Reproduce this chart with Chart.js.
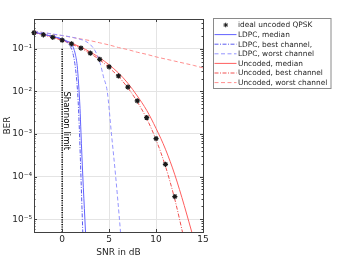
<!DOCTYPE html>
<html lang="en">
<head>
<meta charset="UTF-8" />
<title>BER vs SNR</title>
<script src="https://cdn.jsdelivr.net/npm/chart.js"></script>
<style>
  html, body { margin: 0; padding: 0; background: #fff; }
</style>
</head>
<body>
<canvas id="grafico" width="347" height="260"></canvas>
<script>
// ideal uncoded QPSK (markers)
const snrIdeal = [-3, -2, -1, 0, 1, 2, 3, 4, 5, 6, 7, 8, 9, 10, 11, 12];
const berIdeal = [0.239, 0.213, 0.186, 0.159, 0.131, 0.104, 0.0789, 0.0565, 0.0377, 0.023, 0.0126, 0.006, 0.00242, 7.8e-4, 1.94e-4, 3.4e-5];

// LDPC
const snrLdpcMedian = [-3, -2, -1, 0, 0.5, 1, 1.2, 1.4, 1.6, 1.75, 1.9, 2.0, 2.2, 2.42, 2.6];
const berLdpcMedian = [0.245, 0.22, 0.195, 0.17, 0.152, 0.13, 0.105, 0.075, 0.04, 0.015, 4e-3, 1.1e-3, 1e-4, 1e-5, 1.5e-6];
const snrLdpcBest = [-3, -2, -1, 0, 0.4, 0.8, 1.1, 1.35, 1.55, 1.7, 1.85, 2.0, 2.15, 2.3];
const berLdpcBest = [0.245, 0.22, 0.195, 0.168, 0.15, 0.12, 0.085, 0.045, 0.018, 6e-3, 1e-3, 1e-4, 1e-5, 1e-6];
const snrLdpcWorst = [-3, -2, -1, 0, 1, 2, 2.5, 3, 3.5, 4, 4.4, 4.8, 5.25, 5.7, 6.1, 6.4];
const berLdpcWorst = [0.255, 0.24, 0.222, 0.205, 0.188, 0.165, 0.15, 0.125, 0.09, 0.05, 0.022, 0.01, 1e-3, 1e-4, 1e-5, 1.5e-6];

// uncoded
const snrUncMedian = [-3, -2, -1, 0, 1, 2, 3, 4, 5, 6, 7, 8, 9, 10, 11, 12, 13, 14];
const berUncMedian = [0.245, 0.218, 0.19, 0.163, 0.136, 0.109, 0.084, 0.061, 0.042, 0.027, 0.0155, 0.0078, 0.0036, 0.00135, 4.4e-4, 1.1e-4, 2.1e-5, 3.5e-6];
const snrUncBest = [-3, -2, -1, 0, 1, 2, 3, 4, 5, 6, 7, 8, 9, 10, 11, 12, 13];
const berUncBest = [0.237, 0.211, 0.184, 0.157, 0.129, 0.102, 0.077, 0.055, 0.036, 0.0222, 0.0121, 0.0057, 0.0023, 7.3e-4, 1.75e-4, 2.9e-5, 3.3e-6];
const snrUncWorst = [-3, -2, -1, 0, 1, 2, 3, 4, 5, 6, 7, 8, 9, 10, 11, 12, 13, 14, 15];
const berUncWorst = [0.263, 0.24, 0.219, 0.204, 0.186, 0.17, 0.155, 0.138, 0.123, 0.107, 0.0955, 0.083, 0.074, 0.0646, 0.0575, 0.0513, 0.0457, 0.0407, 0.0355];

// Shannon limit (vertical line)
const snrShannon = [0, 0];
const berShannon = [0.1, 5e-6];

const xTicks = [0, 5, 10, 15];
const yTicks = [1e-5, 1e-4, 1e-3, 1e-2, 1e-1];
const yTickLabels = ["10⁻⁵", "10⁻⁴", "10⁻³", "10⁻²", "10⁻¹"];

const fonte = "'DejaVu Sans', sans-serif";
const cinza = "#262626";

function pontos(xs, ys) {
  return xs.map((x, i) => ({ x: x, y: ys[i] }));
}

function estrela(ctx, x, y, r) {
  ctx.beginPath();
  for (let k = 0; k < 4; k++) {
    const ang = (k * Math.PI) / 4;
    ctx.moveTo(x - r * Math.cos(ang), y - r * Math.sin(ang));
    ctx.lineTo(x + r * Math.cos(ang), y + r * Math.sin(ang));
  }
  ctx.stroke();
}

// moldura estilo matlab, ticks para dentro, texto "Shannon limit"
const molduraPlugin = {
  id: "moldura",
  afterDatasetsDraw(chart) {
    const { ctx, chartArea: a, scales } = chart;
    const x = scales.x, y = scales.y;
    ctx.save();
    ctx.strokeStyle = "#404040";
    ctx.lineWidth = 1;
    ctx.beginPath();
    for (let e = -6; e <= 0; e++) {
      for (let k = 1; k <= 9; k++) {
        const v = k * Math.pow(10, e);
        if (v < y.min || v > y.max) continue;
        const py = Math.round(y.getPixelForValue(v)) + 0.5;
        const len = k === 1 ? 3 : 1.5;
        ctx.moveTo(a.left, py); ctx.lineTo(a.left + len, py);
        ctx.moveTo(a.right, py); ctx.lineTo(a.right - len, py);
      }
    }
    xTicks.forEach((v) => {
      const px = Math.round(x.getPixelForValue(v)) + 0.5;
      ctx.moveTo(px, a.bottom); ctx.lineTo(px, a.bottom - 3);
      ctx.moveTo(px, a.top); ctx.lineTo(px, a.top + 3);
    });
    ctx.stroke();
    ctx.strokeRect(Math.round(a.left) + 0.5, Math.round(a.top) + 0.5,
      Math.round(a.right - a.left), Math.round(a.bottom - a.top));

    // texto rotacionado junto da linha
    ctx.translate(x.getPixelForValue(0) + 2, y.getPixelForValue(1e-2));
    ctx.rotate(Math.PI / 2);
    ctx.font = "8.5px " + fonte;
    ctx.fillStyle = "#000";
    ctx.textAlign = "left";
    ctx.textBaseline = "alphabetic";
    ctx.fillText("Shannon limit", 0, 0);
    ctx.restore();
  },
  afterDraw(chart) {
    const ctx = chart.ctx;
    const itens = chart.data.datasets.filter((d) => d.label);
    const bx = 213.5, by = 18.5, bw = 117.5, bh = 70;
    ctx.save();
    ctx.fillStyle = "#fff";
    ctx.fillRect(bx, by, bw, bh);
    ctx.strokeStyle = "#8a8a8a";
    ctx.lineWidth = 1;
    ctx.strokeRect(bx, by, bw, bh);
    ctx.font = "7.4px " + fonte;
    ctx.textBaseline = "middle";
    ctx.textAlign = "left";
    itens.forEach((d, i) => {
      const cy = by + 6.5 + i * 9.6;
      if (d.showLine === false) {
        ctx.strokeStyle = d.borderColor;
        ctx.lineWidth = 1;
        ctx.setLineDash([]);
        estrela(ctx, 225.7, cy, 2.3);
      } else {
        ctx.strokeStyle = d.borderColor;
        ctx.lineWidth = d.borderWidth || 1;
        ctx.setLineDash(d.borderDash || []);
        ctx.beginPath();
        ctx.moveTo(214.5, cy);
        ctx.lineTo(236.5, cy);
        ctx.stroke();
      }
      ctx.setLineDash([]);
      ctx.fillStyle = cinza;
      ctx.fillText(d.label, 238, cy + 0.5);
    });
    ctx.restore();
  },
};

const linha = (label, xs, ys, cor, dash) => ({
  label: label,
  data: pontos(xs, ys),
  borderColor: cor,
  backgroundColor: cor,
  borderWidth: 1,
  borderDash: dash,
  pointRadius: 0,
  cubicInterpolationMode: "monotone",
  clip: 1,
});

new Chart(document.getElementById("grafico").getContext("2d"), {
  type: "line",
  data: {
    datasets: [
      {
        label: "ideal uncoded QPSK",
        data: pontos(snrIdeal, berIdeal),
        showLine: false,
        pointStyle: "star",
        pointRadius: 2.6,
        pointBorderWidth: 1.2,
        borderColor: "#1a1a1a",
        backgroundColor: "#1a1a1a",
        clip: false,
      },
      linha("LDPC, median", snrLdpcMedian, berLdpcMedian, "#6262ff", []),
      linha("LDPC, best channel,", snrLdpcBest, berLdpcBest, "#5a5af0", [4, 1.5, 1, 1.5]),
      linha("LDPC, worst channel", snrLdpcWorst, berLdpcWorst, "#9494ff", [4, 2.5]),
      linha("Uncoded, median", snrUncMedian, berUncMedian, "#ff5e5e", []),
      linha("Uncoded, best channel", snrUncBest, berUncBest, "#f05050", [4, 1.5, 1, 1.5]),
      linha("Uncoded, worst channel", snrUncWorst, berUncWorst, "#ff8e8e", [4, 2.5]),
      {
        data: pontos(snrShannon, berShannon),
        borderColor: "#000",
        borderWidth: 1.5,
        borderDash: [1.2, 1.2],
        pointRadius: 0,
        clip: 1,
      },
    ],
  },
  options: {
    responsive: false,
    animation: false,
    devicePixelRatio: 1,
    layout: { padding: { top: 19, right: 144, left: 0, bottom: 0 } },
    plugins: { legend: { display: false }, tooltip: { enabled: false } },
    scales: {
      x: {
        type: "linear",
        min: -3,
        max: 15,
        afterBuildTicks: (s) => { s.ticks = xTicks.map((v) => ({ value: v })); },
        afterFit: (s) => { s.height = 28; },
        grid: { color: "#e4e4e4", drawTicks: false },
        border: { display: false },
        ticks: { color: cinza, font: { family: fonte, size: 9 }, padding: 2, maxRotation: 0 },
        title: { display: true, text: "SNR in dB", color: cinza, font: { family: fonte, size: 9 }, padding: { top: 0, bottom: 2 } },
      },
      y: {
        type: "logarithmic",
        min: 5e-6,
        max: 0.5,
        afterBuildTicks: (s) => { s.ticks = yTicks.map((v) => ({ value: v })); },
        afterFit: (s) => { s.width = 34; },
        grid: { color: "#e4e4e4", drawTicks: false },
        border: { display: false },
        ticks: {
          color: cinza,
          font: { family: fonte, size: 9 },
          padding: 2,
          callback: (v, i) => yTickLabels[i],
        },
        title: { display: true, text: "BER", color: cinza, font: { family: fonte, size: 9 }, padding: { top: 2, bottom: 0 } },
      },
    },
  },
  plugins: [molduraPlugin],
});
</script>
</body>
</html>
